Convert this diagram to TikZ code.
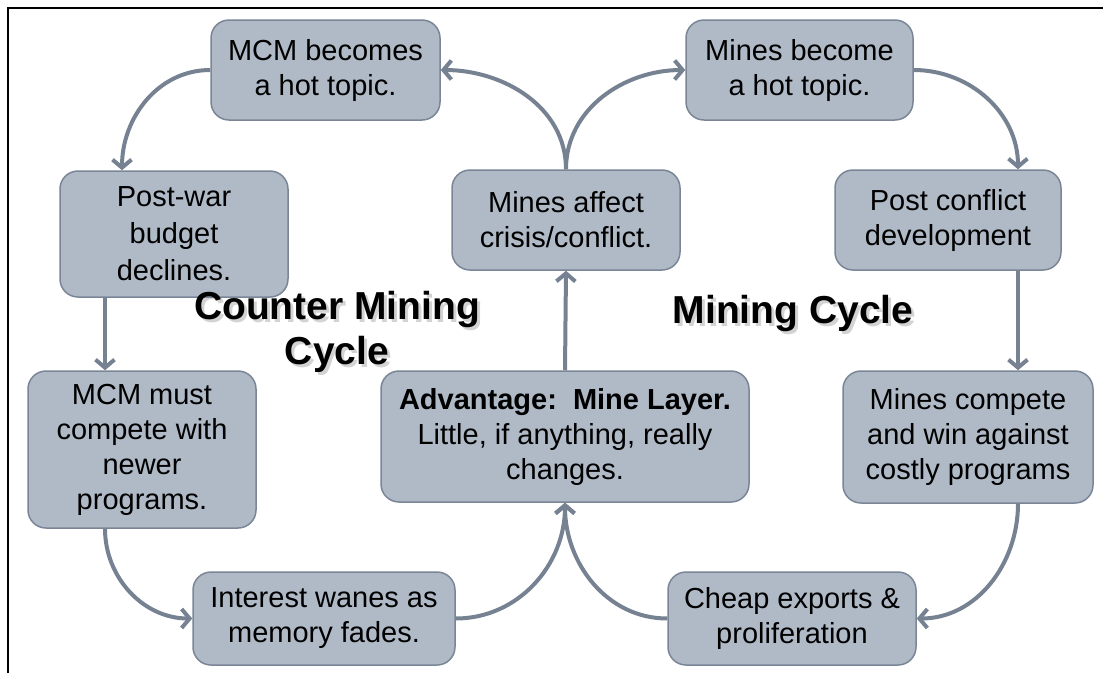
\documentclass[tikz,border=0pt]{standalone}
\usepackage{fontspec}
\setmainfont{Liberation Sans}
\usetikzlibrary{arrows.meta,calc}
\definecolor{boxfill}{RGB}{176,186,199}
\definecolor{boxline}{RGB}{122,134,150}
\definecolor{arr}{RGB}{118,130,146}
\tikzset{
  box/.style={draw=boxline, line width=1.5pt, fill=boxfill, rounded corners=18pt,
    align=center, font=\fontsize{29}{35}\selectfont, inner sep=0pt},
  conn/.style={draw=arr, line width=4pt, -{Straight Barb[length=8pt,width=19pt]}},
  title/.style={align=center, font=\fontsize{39}{45}\selectfont\bfseries},
  shadowtext/.style={title, text=gray, opacity=0.35},
  frameline/.style={draw=black, line width=2pt}
}
\begin{document}
\begin{tikzpicture}[x=1pt,y=-1pt]
\useasboundingbox (0,0) rectangle (1103,673);
\draw[frameline] (8,673) -- (8,8) -- (1103,8);

\node[box, minimum width=229pt, minimum height=100pt] (b1) at (325.5,70) {MCM becomes\\a hot topic.};
\node[box, minimum width=227pt, minimum height=100pt] (b2) at (799.5,70) {Mines become\\a hot topic.};
\node[box, minimum width=228pt, minimum height=126pt, font=\fontsize{29}{37}\selectfont] (b3) at (174,234) {Post-war\\budget\\declines.};
\node[box, minimum width=228pt, minimum height=100pt] (b4) at (566,220) {Mines affect\\crisis/conflict.};
\node[box, minimum width=226pt, minimum height=100pt] (b5) at (948,220) {Post conflict\\development};
\node[box, minimum width=228pt, minimum height=157pt] (b6) at (142,449.5) {MCM must\\compete with\\newer\\programs.};
\node[box, minimum width=368pt, minimum height=131pt] (b7) at (565,436.5) {\textbf{Advantage:\ \ Mine Layer.}\\Little, if anything,\ really\\changes.};
\node[box, minimum width=250pt, minimum height=132pt] (b8) at (968,437) {Mines compete\\and win against\\costly programs};
\node[box, minimum width=262pt, minimum height=93pt] (b9) at (324,618.5) {Interest wanes as\\memory fades.};
\node[box, minimum width=248pt, minimum height=93pt] (b10) at (792,618.5) {Cheap exports \&\\proliferation};

\node[shadowtext] (s1) at (340,335) {Counter Mining\\Cycle};
\node[shadowtext] (s2) at (796,316) {Mining Cycle};
\node[title] (t1) at (337,332) {Counter Mining\\Cycle};
\node[title] (t2) at (793,313) {Mining Cycle};

\draw[conn] (b1.west) to[out=180,in=90] ([xshift=-52pt]b3.north);
\draw[conn] ([xshift=-69pt]b3.south) -- ([xshift=-37pt]b6.north);
\draw[conn] ([xshift=-37pt]b6.south) to[out=-90,in=180] (b9.west);
\draw[conn] (b9.east) to[out=0,in=-90] (b7.south);
\draw[conn] (b10.west) to[out=180,in=-90] (b7.south);
\draw[conn] (b7.north) -- (b4.south);
\draw[conn] (b4.north) to[out=90,in=0] (b1.east);
\draw[conn] (b4.north) to[out=90,in=180] (b2.west);
\draw[conn] (b2.east) to[out=0,in=90] ([xshift=70pt]b5.north);
\draw[conn] ([xshift=70pt]b5.south) -- ([xshift=50pt]b8.north);
\draw[conn] ([xshift=50pt]b8.south) to[out=-90,in=0] (b10.east);
\end{tikzpicture}
\end{document}
